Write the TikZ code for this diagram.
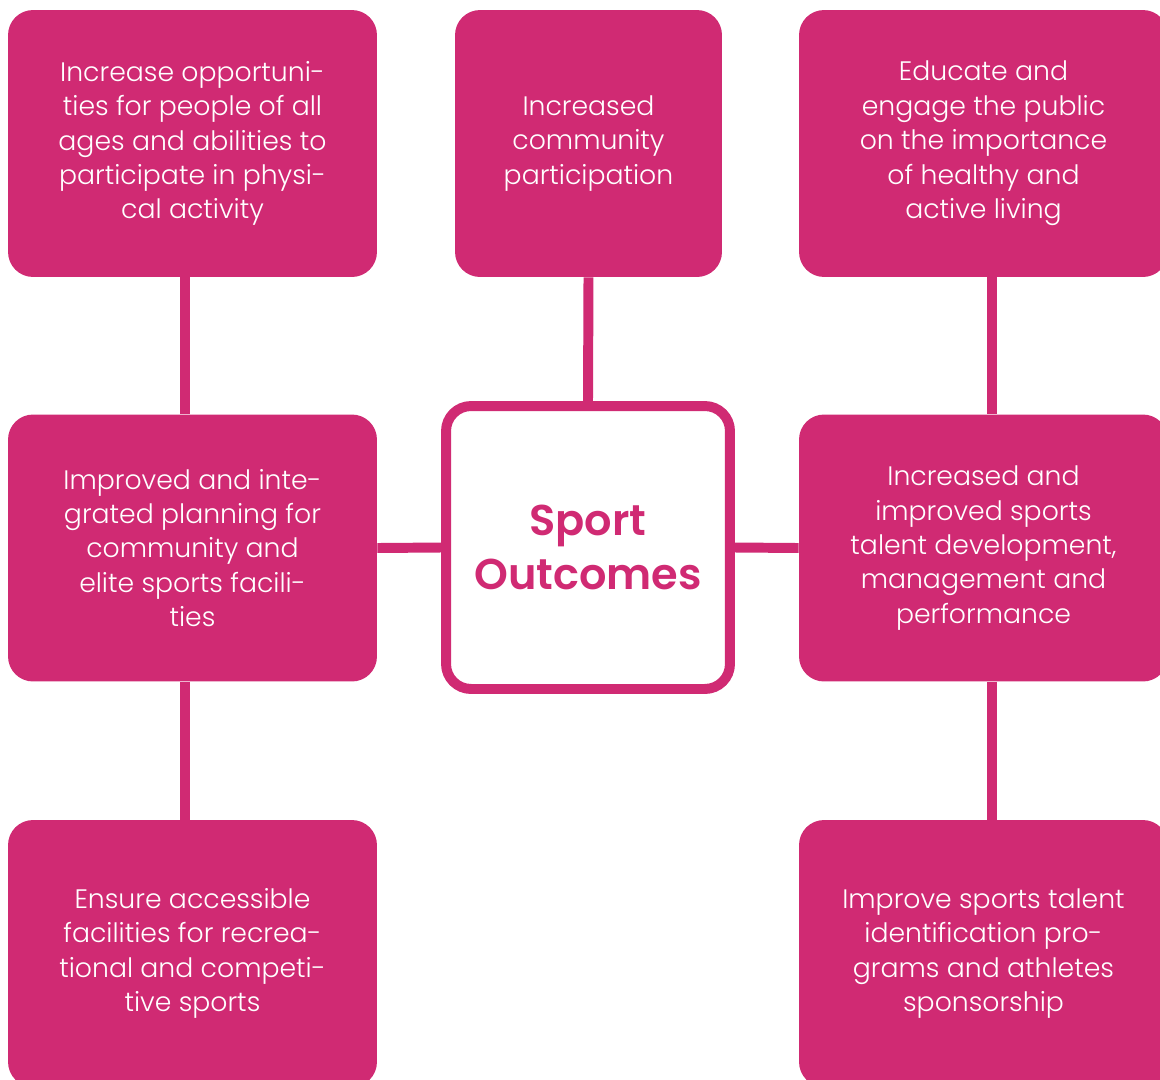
\documentclass[tikz,border=0pt]{standalone}
\usepackage{fontspec}
\setmainfont{Poppins}[UprightFont=* Light, BoldFont=* SemiBold]
\definecolor{sportpink}{HTML}{D02A73}

\begin{document}
\begin{tikzpicture}[x=0.02cm, y=-0.02cm,
    goal/.style={fill=sportpink, rounded corners=0.5cm, minimum width=7.38cm, minimum height=5.34cm,
        text=white, align=center, inner sep=0pt, font=\fontsize{15.2}{19.6}\selectfont},
    core/.style={draw=sportpink, line width=5.67pt, fill=white, rounded corners=0.5cm,
        minimum width=5.68cm, minimum height=5.66cm, text=sportpink, align=center,
        font=\fontsize{24.5}{31}\selectfont\bfseries},
    link/.style={draw=sportpink, line width=5.67pt}]

\useasboundingbox (0,0) rectangle (1160,1079);

% centre
\node[core] (outc) at (588,547.5) {Sport\\Outcomes};

% top row
\node[goal] (tl) at (192.5,143.5) {Increase opportuni-\\ties for people of all\\ages and abilities to\\participate in physi-\\cal activity};
\node[goal, minimum width=5.34cm] (tm) at (588.5,143.5) {Increased\\community\\participation};
\node[goal] (tr) at (983.5,143.5) {Educate and\\engage the public\\on the importance\\of healthy and\\active living};

% middle row
\node[goal] (ml) at (192.5,548) {Improved and inte-\\grated planning for\\community and\\elite sports facili-\\ties};
\node[goal] (mr) at (983.5,548) {Increased and\\improved sports\\talent development,\\management and\\performance};

% bottom row
\node[goal] (bl) at (192.5,953.5) {Ensure accessible\\facilities for recrea-\\tional and competi-\\tive sports};
\node[goal] (br) at (983.5,953.5) {Improve sports talent\\identification pro-\\grams and athletes\\sponsorship};

% links
\draw[link] ([xshift=-0.15cm]tl.south) -- ([xshift=-0.15cm]ml.north);
\draw[link] ([xshift=-0.15cm]ml.south) -- ([xshift=-0.15cm]bl.north);
\draw[link] ([xshift=0.17cm]tr.south) -- ([xshift=0.17cm]mr.north);
\draw[link] ([xshift=0.17cm]mr.south) -- ([xshift=0.17cm]br.north);
\draw[link] (tm.south) -- (outc.north);
\draw[link] (ml.east) -- (outc.west);
\draw[link] (outc.east) -- (mr.west);

\end{tikzpicture}
\end{document}
